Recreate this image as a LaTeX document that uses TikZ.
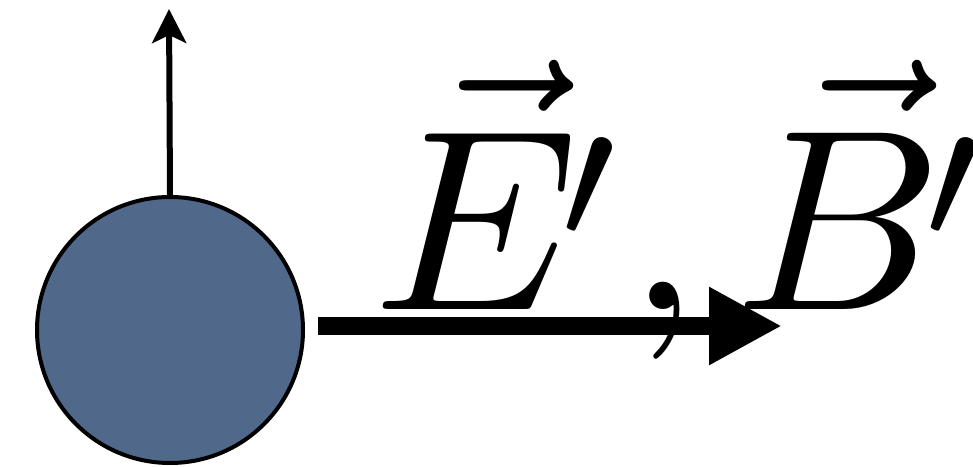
\documentclass[tikz,border=0pt]{standalone}
\usetikzlibrary{arrows.meta}
\definecolor{ballblue}{RGB}{80,104,138}
\newcommand{\lowprime}{^{\kern-0.78pt\raisebox{-0.85pt}{$\scriptstyle\prime$}\kern0.78pt}}
\newcommand{\lowprimeend}{^{\kern-0.78pt\raisebox{-0.85pt}{$\scriptstyle\prime$}}}
\tikzset{
  ball/.style={circle, draw=black, line width=4pt, fill=ballblue, minimum size=266pt, inner sep=0pt},
  thinarrow/.style={line width=6pt, -{Stealth[length=34pt, width=34pt, inset=8pt]}},
  thickarrow/.style={line width=18pt, -{Triangle[length=73pt, width=73pt]}},
  fieldlabel/.style={inner sep=0pt, anchor=base west, scale=25.8}
}
\begin{document}
\begin{tikzpicture}[x=1pt, y=1pt]
  \useasboundingbox (0,0) rectangle (973,466);
  \node[ball] (p) at (170,136) {};
  \coordinate (u) at (169,457);
  \coordinate (s) at (318,140);
  \coordinate (t) at (782,140);
  \draw[thinarrow] (p.north) -- (u);
  \draw[thickarrow] (s) -- (t);
  \node[fieldlabel] (lab) at (368,156) {$\vec{E}\lowprime\mkern-1.6mu,\mkern-0.6mu\vec{B}\lowprimeend$};
\end{tikzpicture}
\end{document}
